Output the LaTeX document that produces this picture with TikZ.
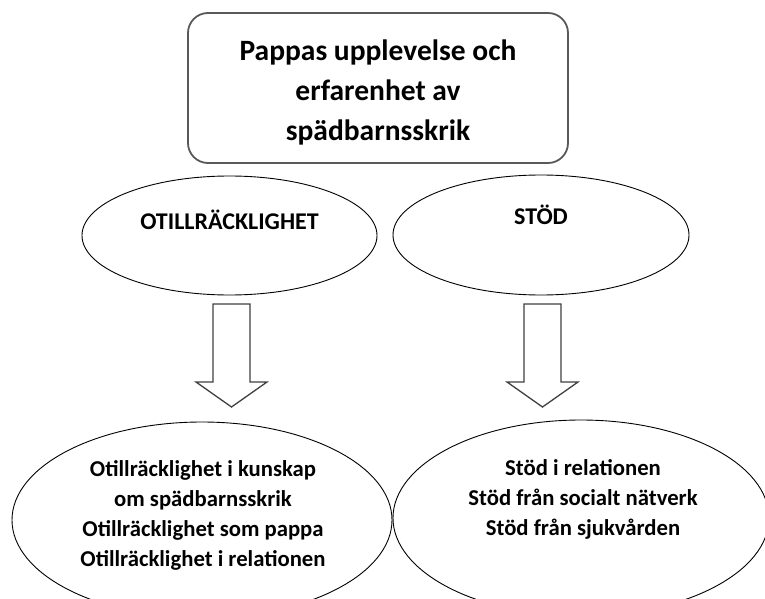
\documentclass[tikz,border=0pt]{standalone}
\usepackage{fontspec}
\setmainfont{Carlito}
\usetikzlibrary{shapes.geometric}
\begin{document}
\begin{tikzpicture}[x=1pt,y=-1pt,
  ov/.style={ellipse,draw=black,line width=0.9pt,inner sep=0pt},
  txt/.style={align=center,inner sep=0pt},
  downarrow/.style={draw=black!75,line width=1.3pt,fill=white,line join=miter}]
\useasboundingbox (0,0) rectangle (765,599);
% top box
\node[draw=black!65,line width=1.8pt,rounded corners=20pt,minimum width=380pt,minimum height=150pt] (top) at (378,88) {};
\node[txt,font=\bfseries\fontsize{29.5pt}{40pt}\selectfont] (toptext) at ([yshift=-4pt]top.center) {Pappas upplevelse och\\erfarenhet av\\spädbarnsskrik};
% upper ellipses
\node[ov,minimum width=295pt,minimum height=119pt] (e1) at (229.5,235.5) {};
\node[ov,minimum width=296pt,minimum height=120pt] (e2) at (541,235) {};
\node[txt,font=\bfseries\fontsize{24pt}{28pt}\selectfont] (t1) at ([yshift=16pt]e1.center) {OTILLRÄCKLIGHET};
\node[txt,font=\bfseries\fontsize{24pt}{28pt}\selectfont] (t2) at ([yshift=20pt]e2.center) {STÖD};
% lower ellipses
\node[ov,minimum width=380pt,minimum height=196pt] (b1) at (202,520) {};
\node[ov,minimum width=376pt,minimum height=196pt] (b2) at (581,518) {};
\node[txt,font=\bfseries\fontsize{22.7pt}{30pt}\selectfont] (bt1) at (203,515) {Otillräcklighet i kunskap\\om spädbarnsskrik\\Otillräcklighet som pappa\\Otillräcklighet i relationen};
\node[txt,font=\bfseries\fontsize{22.7pt}{30pt}\selectfont] (bt2) at (583,499) {Stöd i relationen\\Stöd från socialt nätverk\\Stöd från sjukvården};
% block arrows
\foreach \n/\cx in {a1/231.5,a2/542.5}{
  \coordinate (\n) at (\cx,304);
  \draw[downarrow] ([xshift=-18.5pt]\n) -- ([xshift=18.5pt]\n) -- ([xshift=18.5pt,yshift=-78pt]\n) -- ([xshift=35.5pt,yshift=-78pt]\n) -- ([yshift=-103pt]\n) -- ([xshift=-35.5pt,yshift=-78pt]\n) -- ([xshift=-18.5pt,yshift=-78pt]\n) -- cycle;
}
\end{tikzpicture}
\end{document}
